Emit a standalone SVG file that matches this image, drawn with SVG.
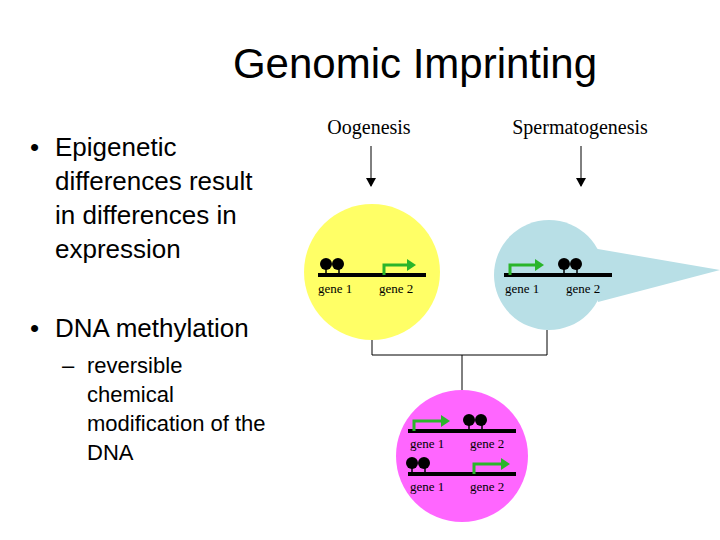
<svg xmlns="http://www.w3.org/2000/svg" width="720" height="540" viewBox="0 0 720 540">
<defs>
<style>
.t{font-family:"Liberation Sans",Arial,sans-serif;fill:#000}
.s{font-family:"Liberation Serif","Times New Roman",serif;fill:#000}
.g{font-family:"Liberation Serif","Times New Roman",serif;font-size:13px;fill:#000}
.dna{stroke:#000;stroke-width:4}
.ar{fill:none;stroke:#2ab52a;stroke-width:3}
.ln{stroke:#000;stroke-width:1;fill:none}
</style>
<marker id="ga" markerWidth="4" markerHeight="4" refX="1" refY="2" orient="auto" markerUnits="strokeWidth"><path d="M0,0L3,2L0,4z" fill="#2ab52a"/></marker>
<marker id="ka" markerWidth="10" markerHeight="10" refX="8" refY="5" orient="auto" markerUnits="userSpaceOnUse"><path d="M0,0L9,5L0,10z" fill="#000"/></marker>
<g id="me"><line x1="0" y1="0" x2="0" y2="10" stroke="#000" stroke-width="1.5"/><line x1="13" y1="0" x2="13" y2="10" stroke="#000" stroke-width="1.5"/><circle cx="0" cy="0" r="6" fill="#000"/><circle cx="12" cy="0" r="6" fill="#000"/></g>
</defs>
<rect width="720" height="540" fill="#fff"/>
<text class="t" x="415" y="78" font-size="42" text-anchor="middle">Genomic Imprinting</text>
<g id="bullets" class="t" font-size="26">
<text x="30" y="156">•</text>
<text x="55" y="156">Epigenetic</text>
<text x="55" y="190">differences result</text>
<text x="55" y="224">in differences in</text>
<text x="55" y="258">expression</text>
<text x="30" y="337">•</text>
<text x="55" y="337">DNA methylation</text>
<g font-size="22"><text x="62" y="373">–</text><text x="87" y="373">reversible</text><text x="87" y="402">chemical</text><text x="87" y="431">modification of the</text><text x="87" y="460">DNA</text></g>
</g>
<g id="connectors">
<line class="ln" x1="371" y1="146" x2="371" y2="186" marker-end="url(#ka)"/>
<line class="ln" x1="581" y1="146" x2="581" y2="186" marker-end="url(#ka)"/>
<path class="ln" d="M372,340V355H547V330M462,355V390"/>
</g>
<text class="s" x="369" y="134" font-size="20" text-anchor="middle">Oogenesis</text>
<text class="s" x="580" y="134" font-size="20" text-anchor="middle">Spermatogenesis</text>
<g id="egg">
<circle cx="372" cy="272" r="68" fill="#ffff66"/>
<line class="dna" x1="318" y1="275" x2="426" y2="275"/>
<use href="#me" x="326" y="264"/>
<path class="ar" d="M384,275V265H410" marker-end="url(#ga)"/>
<text class="g" x="318" y="293">gene 1</text><text class="g" x="379" y="293">gene 2</text>
</g>
<g id="sperm">
<path d="M592,248L720,270L598,302Z" fill="#b8dfe6"/>
<circle cx="549" cy="275" r="55" fill="#b8dfe6"/>
<line class="dna" x1="504" y1="275" x2="612" y2="275"/>
<path class="ar" d="M510,275V265H538" marker-end="url(#ga)"/>
<use href="#me" x="564" y="264"/>
<text class="g" x="505" y="293">gene 1</text><text class="g" x="566" y="293">gene 2</text>
</g>
<g id="zygote">
<circle cx="462" cy="456" r="66" fill="#ff66ff"/>
<line class="dna" x1="408" y1="431" x2="516" y2="431"/>
<path class="ar" d="M414,431V421H444" marker-end="url(#ga)"/>
<use href="#me" x="469" y="420"/>
<text class="g" x="410" y="448">gene 1</text><text class="g" x="470" y="448">gene 2</text>
<line class="dna" x1="408" y1="474" x2="516" y2="474"/>
<use href="#me" x="412" y="463"/>
<path class="ar" d="M474,474V464H504" marker-end="url(#ga)"/>
<text class="g" x="410" y="491">gene 1</text><text class="g" x="470" y="491">gene 2</text>
</g>
</svg>
